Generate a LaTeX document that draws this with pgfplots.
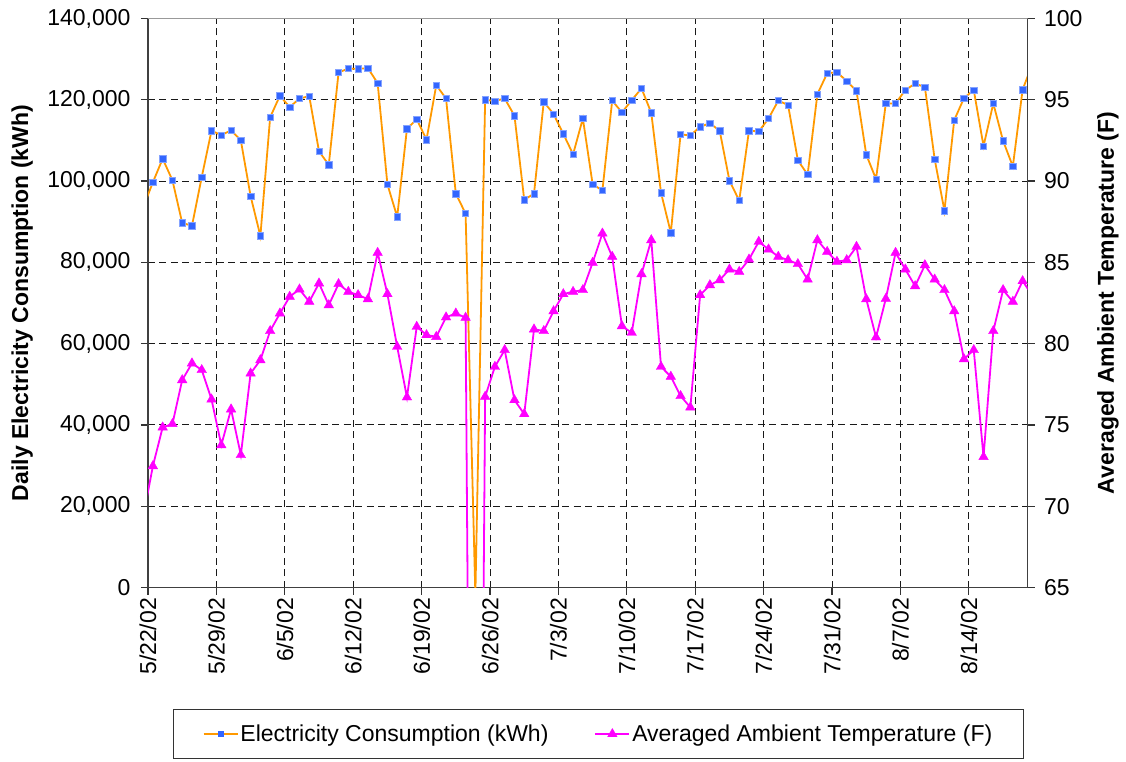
\documentclass[border=0pt]{standalone}
\usepackage{fontspec}
\setmainfont{Liberation Sans}
\usepackage{pgfplots}
\pgfplotsset{compat=1.18}
\usepackage{pgfplotstable}

\definecolor{elecline}{HTML}{FF9900}
\definecolor{elecmark}{HTML}{3366FF}
\definecolor{tempcol}{HTML}{FF00FF}

\pgfplotstableread{
x y
-0.5 93500
0.5 99700
1.5 105500
2.5 100200
3.5 89700
4.5 89000
5.5 101000
6.5 112400
7.5 111300
8.5 112500
9.5 110000
10.5 96300
11.5 86500
12.5 115700
13.5 121000
14.5 118200
15.5 120300
16.5 120900
17.5 107300
18.5 104000
19.5 126700
20.5 127700
21.5 127600
22.5 127800
23.5 124100
24.5 99200
25.5 91200
26.5 112900
27.5 115200
28.5 110200
29.5 123600
30.5 120300
31.5 96900
32.5 92000
33.5 -1800
34.5 120000
35.5 119700
36.5 120300
37.5 116100
38.5 95400
39.5 96900
40.5 119500
41.5 116500
42.5 111600
43.5 106600
44.5 115400
45.5 99200
46.5 97700
47.5 119800
48.5 116900
49.5 119900
50.5 122800
51.5 116800
52.5 97100
53.5 87300
54.5 111500
55.5 111200
56.5 113400
57.5 114200
58.5 112400
59.5 100100
60.5 95200
61.5 112400
62.5 112200
63.5 115400
64.5 119800
65.5 118700
66.5 105100
67.5 101600
68.5 121400
69.5 126500
70.5 126800
71.5 124600
72.5 122200
73.5 106500
74.5 100500
75.5 119100
76.5 119100
77.5 122400
78.5 124000
79.5 123100
80.5 105400
81.5 92700
82.5 115000
83.5 120400
84.5 122400
85.5 108600
86.5 119100
87.5 109900
88.5 103600
89.5 122500
90.5 128800
}\elec

\pgfplotstableread{
x y
-0.5 69.3
0.5 72.47
1.5 74.85
2.5 75.06
3.5 77.76
4.5 78.79
5.5 78.38
6.5 76.57
7.5 73.76
8.5 75.96
9.5 73.15
10.5 78.17
11.5 78.99
12.5 80.78
13.5 81.86
14.5 82.89
15.5 83.34
16.5 82.58
17.5 83.71
18.5 82.37
19.5 83.67
20.5 83.19
21.5 82.99
22.5 82.74
23.5 85.59
24.5 83.05
25.5 79.81
26.5 76.70
27.5 81.04
28.5 80.53
29.5 80.42
30.5 81.62
31.5 81.86
32.5 81.6
33.5 0
34.5 76.74
35.5 78.58
36.5 79.61
37.5 76.53
38.5 75.67
39.5 80.88
40.5 80.78
41.5 82.0
42.5 83.05
43.5 83.19
44.5 83.3
45.5 84.98
46.5 86.78
47.5 85.35
48.5 81.08
49.5 80.67
50.5 84.28
51.5 86.37
52.5 78.58
53.5 77.97
54.5 76.78
55.5 76.08
56.5 82.99
57.5 83.6
58.5 83.91
59.5 84.57
60.5 84.42
61.5 85.18
62.5 86.27
63.5 85.8
64.5 85.35
65.5 85.14
66.5 84.9
67.5 83.95
68.5 86.37
69.5 85.65
70.5 85.04
71.5 85.14
72.5 85.96
73.5 82.74
74.5 80.39
75.5 82.76
76.5 85.59
77.5 84.57
78.5 83.54
79.5 84.83
80.5 83.95
81.5 83.3
82.5 82.0
83.5 79.05
84.5 79.61
85.5 73.03
86.5 80.78
87.5 83.3
88.5 82.58
89.5 83.85
90.5 82.96
}\temp

\newcommand{\bigfont}{\fontsize{23}{27}\selectfont}

\pgfplotsset{
  common/.style={
    scale only axis,
    width=879.5pt, height=569pt,
    at={(0pt,0pt)}, anchor=south west,
    xmin=0, xmax=90,
    tick align=outside,
    major tick length=7pt,
    every tick/.style={black!80, line width=1.2pt},
    tick label style={font=\bigfont},
    label style={font=\bigfont\bfseries},
  }
}

\begin{document}
\begin{tikzpicture}
\path[use as bounding box] (-148pt,-173.5pt) rectangle (978pt,587.5pt);
\begin{axis}[
  common,
  ymin=0, ymax=140000,
  ytick={0,20000,40000,60000,80000,100000,120000,140000},
  yticklabels={0,{20,000},{40,000},{60,000},{80,000},{100,000},{120,000},{140,000}},
  yticklabel style={xshift=-7pt},
  scaled y ticks=false,
  xtick={0,7,14,21,28,35,42,49,56,63,70,77,84},
  xticklabels={5/22/02,5/29/02,6/5/02,6/12/02,6/19/02,6/26/02,7/3/02,7/10/02,7/17/02,7/24/02,7/31/02,8/7/02,8/14/02},
  xticklabel style={rotate=90, anchor=east},
  tick pos=left,
  grid=major,
  major grid style={black!90, dash pattern=on 7pt off 4.5pt, line width=1pt},
  axis line style={black!75, line width=1.5pt},
  ylabel={Daily Electricity Consumption (kWh)},
  ylabel style={at={(axis description cs:-0.143,0.5)}, anchor=center},
]
\addplot[elecline, line width=1.8pt, mark=square*, mark size=3.2pt,
  mark options={fill=elecmark, draw=elecmark!60!white, line width=0.6pt}] table[x=x,y=y] {\elec};
\end{axis}
\begin{axis}[
  common,
  ymin=65, ymax=100,
  ytick={65,70,75,80,85,90,95,100},
  yticklabels={65,70,75,80,85,90,95,100},
  yticklabel style={xshift=6pt},
  axis x line=none,
  axis y line*=right,
  axis line style={black!75, line width=1.5pt},
  ylabel={Averaged Ambient Temperature (F)},
  ylabel style={at={(axis description cs:1.0915,0.5)}, anchor=center},
  legend columns=2,
  legend image code/.code={
    \draw[mark repeat=2,mark phase=2,#1] plot coordinates {(0pt,0pt) (17pt,0pt) (34pt,0pt)};
  },
  legend style={at={(axis description cs:0.5122,-0.2575)}, anchor=center,
    draw=black!80, line width=1pt, font=\bigfont,
    inner xsep=29pt, inner ysep=13pt,
    /tikz/every even column/.append style={column sep=44pt}},
]
\addlegendimage{elecline, line width=1.8pt, mark=square*, mark size=2.5pt,
  mark options={fill=elecmark, draw=elecmark, line width=0.4pt}}
\addlegendentry{Electricity Consumption (kWh)}
\addplot[tempcol, line width=1.8pt, mark=triangle*, mark size=5.5pt,
  mark options={fill=tempcol, draw=tempcol, line width=0.4pt}] table[x=x,y=y] {\temp};
\addlegendentry{Averaged Ambient Temperature (F)}
\draw[gray!80, line width=2pt] (rel axis cs:0,1) -- (rel axis cs:1,1);
\end{axis}
\end{tikzpicture}
\end{document}
